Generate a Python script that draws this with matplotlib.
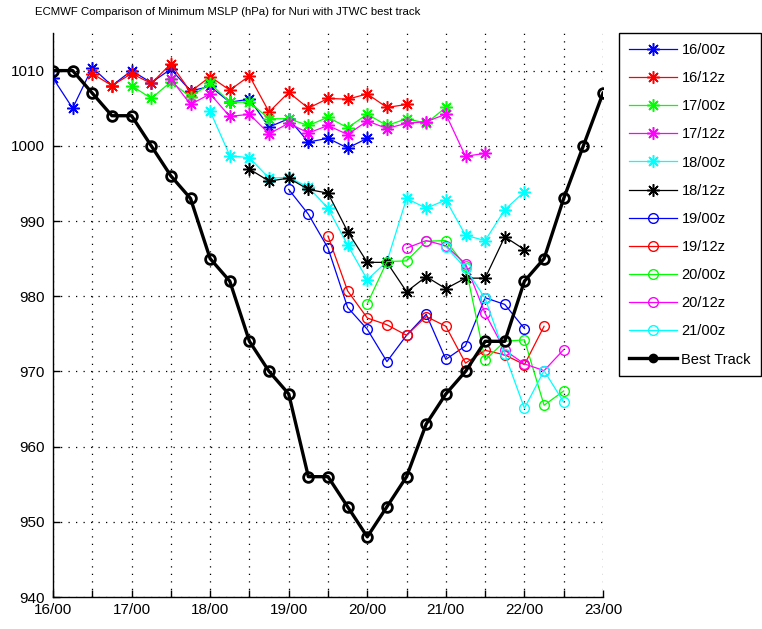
import numpy as np
import matplotlib
matplotlib.use("Agg")
import matplotlib.pyplot as plt
from matplotlib.lines import Line2D

plt.rcParams['font.family'] = ['Liberation Sans', 'DejaVu Sans']

#--------tick labels (6 hourly steps, label every day)-------#
day_labels = ['16/00', '17/00', '18/00', '19/00', '20/00', '21/00', '22/00', '23/00']

#--------best track (JTWC), 16/00 .. 23/00 every 6 h-------#
best_track = [1010, 1010, 1007, 1004, 1004, 1000, 996, 993, 985, 982, 974, 970, 967,
              956, 956, 952, 948, 952, 956, 963, 967, 970, 974, 974, 982, 985, 993,
              1000, 1007]

#--------ECMWF runs: first 6 h step index and min MSLP values-------#
run_names = ['16/00z', '16/12z', '17/00z', '17/12z', '18/00z', '18/12z',
             '19/00z', '19/12z', '20/00z', '20/12z', '21/00z']
run_start = [0, 2, 4, 6, 8, 10, 12, 14, 16, 18, 20]

r16_00 = [1009, 1005, 1010.4, 1008, 1010, 1008.4, 1010.2, 1007.3, 1007.9, 1005.8,
          1006.2, 1002.5, 1003.6, 1000.5, 1001, 999.7, 1001]
r16_12 = [1009.6, 1008, 1009.6, 1008.3, 1010.9, 1007.2, 1009.2, 1007.4, 1009.3,
          1004.5, 1007.1, 1005, 1006.3, 1006.2, 1006.9, 1005.1, 1005.5]
r17_00 = [1008, 1006.3, 1008.5, 1006.5, 1008.3, 1005.8, 1005.8, 1003.6, 1003.6,
          1002.7, 1003.8, 1002.4, 1004.2, 1002.7, 1003.6, 1003, 1005.1]
r17_12 = [1008.9, 1005.5, 1006.9, 1003.9, 1004.2, 1001.6, 1003, 1001.7, 1002.7,
          1001.5, 1003.3, 1002.3, 1003, 1003.2, 1004.2, 998.6, 999]
r18_00 = [1004.6, 998.7, 998.4, 995.7, 995.8, 994.5, 991.7, 986.8, 982.2, 984.6,
          993, 991.7, 992.8, 988.1, 987.4, 991.5, 993.9]
r18_12 = [996.9, 995.3, 995.7, 994.2, 993.7, 988.6, 984.5, 984.5, 980.6, 982.6,
          981, 982.4, 982.4, 987.9, 986.2]
r19_00 = [994.2, 990.9, 986.4, 978.5, 975.6, 971.3, 974.8, 977.6, 971.6, 973.4,
          979.8, 978.9, 975.7]
r19_12 = [988, 980.7, 977.1, 976.2, 974.8, 977.3, 976, 971.1, 972.8, 972.2, 970.9, 976]
r20_00 = [979, 984.6, 984.7, 987.3, 987.4, 984, 971.5, 974, 974.2, 965.5, 967.4]
r20_12 = [986.4, 987.4, 986.7, 984.3, 977.7, 972.8, 971, 970.1, 972.9]
r21_00 = [986.6, 983.7, 979.7, 972.3, 965.1, 970.1, 965.9]

runs = [r16_00, r16_12, r17_00, r17_12, r18_00, r18_12,
        r19_00, r19_12, r20_00, r20_12, r21_00]

# pure matlab colours
blue, red, green, magenta, cyan, black = '#0000ff', '#ff0000', '#00ff00', '#ff00ff', '#00ffff', '#000000'
colors = [blue, red, green, magenta, cyan, black, blue, red, green, magenta, cyan]
asterisk = (8, 2, 0)
markers = [asterisk] * 6 + ['o'] * 5

#--------figure-------#
fig = plt.figure(figsize=(7.62, 6.29), dpi=100)
ax = fig.add_axes([53 / 762, 32 / 629, 550 / 762, 564 / 629])

handles = []
for name, start, vals, c, m in zip(run_names, run_start, runs, colors, markers):
    t = (start + np.arange(len(vals))) / 4.0
    if m == 'o':
        ln, = ax.plot(t, vals, color=c, lw=0.9, marker='o', ms=7, mfc='none',
                      mec=c, mew=1.0, label=name)
    else:
        ln, = ax.plot(t, vals, color=c, lw=0.9, marker=m, ms=9, mec=c,
                      mew=1.1, label=name)
    handles.append(ln)

t_bt = np.arange(len(best_track)) / 4.0
bt, = ax.plot(t_bt, best_track, color='k', lw=2.4, marker='o', ms=7, mfc='none',
              mec='k', mew=2.0, label='Best Track')

#--------axes styling (matlab look)-------#
ax.set_xlim(0, 7)
ax.set_ylim(940, 1015)
ax.set_xticks(np.arange(0, 7.01, 0.5))
xlabels = []
for d in day_labels:
    xlabels += [d, '']
ax.set_xticklabels(xlabels[:15])
ax.set_yticks(np.arange(940, 1011, 10))
ax.tick_params(direction='in', length=5, width=1, labelsize=11, colors='k')
ax.tick_params(axis='x', pad=4)
ax.tick_params(axis='y', pad=6)
ax.spines['top'].set_visible(False)
ax.spines['right'].set_visible(False)
ax.spines['left'].set_linewidth(1.0)
ax.spines['bottom'].set_linewidth(1.0)
ax.grid(True, color='k', linestyle=(0, (1, 5)), linewidth=0.9)
ax.set_axisbelow(True)

fig.text(35 / 762, 1 - 12 / 629, 'ECMWF Comparison of Minimum MSLP (hPa) for Nuri with JTWC best track',
         ha='left', va='center', fontsize=8.2)

#--------legend outside on the right-------#
bt_handle = Line2D([], [], color='k', lw=2.4, marker='o', ms=5, mfc='k', mec='k', mew=2)
leg = ax.legend(handles + [bt_handle], run_names + ['Best Track'],
                loc='upper left', bbox_to_anchor=(619 / 762, 1 - 33 / 629),
                bbox_transform=fig.transFigure, borderaxespad=0, fontsize=10.5,
                handlelength=3.3, handletextpad=0.3, labelspacing=0.97,
                borderpad=0.68, fancybox=False, framealpha=1)
leg.get_frame().set_edgecolor('k')
leg.get_frame().set_linewidth(1.0)

plt.savefig('out.png', dpi=100)
